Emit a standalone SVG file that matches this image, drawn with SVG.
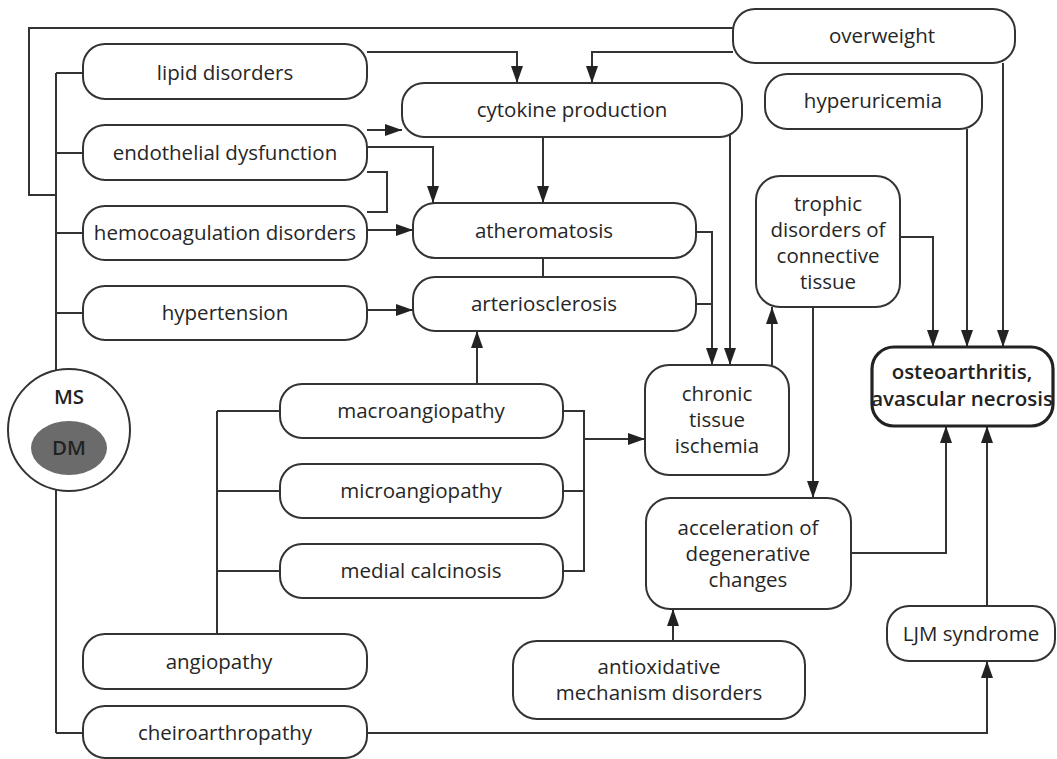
<svg xmlns="http://www.w3.org/2000/svg" width="1057" height="759" viewBox="0 0 1057 759">
  <style>
    .box { fill: #ffffff; stroke: #333333; stroke-width: 2; }
    .box-main { fill: #ffffff; stroke: #222222; stroke-width: 3.2; }
    .lbl { font-family: "Open Sans", "Liberation Sans", sans-serif; font-size: 20.5px; fill: #262626; text-anchor: middle; }
    .lbl-b { font-family: "Open Sans", "Liberation Sans", sans-serif; font-size: 20.5px; font-weight: 600; fill: #222222; text-anchor: middle; }
    .wire { fill: none; stroke: #333333; stroke-width: 2; }
    .arr { fill: none; stroke: #333333; stroke-width: 2; marker-end: url(#head); }
  </style>
  <defs>
    <marker id="head" viewBox="0 0 17 12" refX="17" refY="6" markerWidth="17" markerHeight="12" orient="auto" markerUnits="userSpaceOnUse">
      <path d="M0,0 L17,6 L0,12 z" fill="#222222"/>
    </marker>
  </defs>
  <rect width="1057" height="759" fill="#ffffff"/>

  <!-- connectors -->
  <g id="connectors">
    <path class="wire" d="M56,195 H29 V28 H733"/>
    <path class="wire" d="M56,73 V371 M56,489 V733"/>
    <path class="wire" d="M56,73 H83 M56,153 H83 M56,233 H83 M56,313 H83 M56,733 H83"/>
    <path class="arr" d="M367,52 H517 V83"/>
    <path class="arr" d="M733,52 H592 V83"/>
    <path class="arr" d="M367,130 H402"/>
    <path class="arr" d="M367,147 H433 V203"/>
    <path class="wire" d="M367,172 H387 V212 H367"/>
    <path class="arr" d="M367,230 H413"/>
    <path class="arr" d="M543,137 V203"/>
    <path class="wire" d="M543,258 V277"/>
    <path class="arr" d="M367,310 H413"/>
    <path class="arr" d="M696,232 H712 V365"/>
    <path class="wire" d="M696,304 H712"/>
    <path class="arr" d="M730,134 V365"/>
    <path class="arr" d="M477,384 V331"/>
    <path class="wire" d="M217,411 V634 M217,411 H280 M217,491 H280 M217,571 H280"/>
    <path class="wire" d="M563,411 H584 V571 H563 M563,491 H584"/>
    <path class="arr" d="M584,439 H645"/>
    <path class="arr" d="M772,365 V307"/>
    <path class="arr" d="M900,237 H933 V347"/>
    <path class="arr" d="M967,129 V347"/>
    <path class="arr" d="M1003,63 V347"/>
    <path class="arr" d="M813,307 V498"/>
    <path class="arr" d="M673,641 V609"/>
    <path class="arr" d="M851,553 H946 V426"/>
    <path class="arr" d="M987,606 V426"/>
    <path class="arr" d="M367,733 H987 V661"/>
  </g>

  <g id="ms-dm">
    <circle cx="69" cy="430" r="61" class="box"/>
    <ellipse cx="69" cy="448" rx="38" ry="27" fill="#6b6b6b"/>
    <text x="69" y="404" class="lbl-b">MS</text>
    <text x="69" y="455" class="lbl-b">DM</text>
  </g>

  <g id="lipid-disorders">
    <rect x="83" y="44" width="284" height="55" rx="22" class="box"/>
    <text x="225" y="80" class="lbl">lipid disorders</text>
  </g>
  <g id="endothelial-dysfunction">
    <rect x="83" y="125" width="284" height="55" rx="22" class="box"/>
    <text x="225" y="160" class="lbl">endothelial dysfunction</text>
  </g>
  <g id="hemocoagulation-disorders">
    <rect x="83" y="206" width="284" height="54" rx="22" class="box"/>
    <text x="225" y="240" class="lbl">hemocoagulation disorders</text>
  </g>
  <g id="hypertension">
    <rect x="83" y="286" width="284" height="54" rx="22" class="box"/>
    <text x="225" y="320" class="lbl">hypertension</text>
  </g>
  <g id="angiopathy">
    <rect x="83" y="634" width="284" height="55" rx="22" class="box"/>
    <text x="219" y="669" class="lbl">angiopathy</text>
  </g>
  <g id="cheiroarthropathy">
    <rect x="83" y="706" width="284" height="52" rx="22" class="box"/>
    <text x="225" y="740" class="lbl">cheiroarthropathy</text>
  </g>

  <g id="cytokine-production">
    <rect x="402" y="83" width="340" height="54" rx="22" class="box"/>
    <text x="572" y="117" class="lbl">cytokine production</text>
  </g>
  <g id="atheromatosis">
    <rect x="413" y="203" width="283" height="55" rx="22" class="box"/>
    <text x="544" y="238" class="lbl">atheromatosis</text>
  </g>
  <g id="arteriosclerosis">
    <rect x="413" y="277" width="283" height="54" rx="22" class="box"/>
    <text x="544" y="311" class="lbl">arteriosclerosis</text>
  </g>

  <g id="macroangiopathy">
    <rect x="280" y="384" width="283" height="54" rx="22" class="box"/>
    <text x="421" y="418" class="lbl">macroangiopathy</text>
  </g>
  <g id="microangiopathy">
    <rect x="280" y="464" width="283" height="54" rx="22" class="box"/>
    <text x="421" y="498" class="lbl">microangiopathy</text>
  </g>
  <g id="medial-calcinosis">
    <rect x="280" y="544" width="283" height="54" rx="22" class="box"/>
    <text x="421" y="578" class="lbl">medial calcinosis</text>
  </g>

  <g id="chronic-tissue-ischemia">
    <rect x="645" y="365" width="144" height="110" rx="24" class="box"/>
    <text x="717" y="401" class="lbl">chronic</text>
    <text x="717" y="427" class="lbl">tissue</text>
    <text x="717" y="453" class="lbl">ischemia</text>
  </g>

  <g id="trophic-disorders">
    <rect x="756" y="176" width="144" height="131" rx="24" class="box"/>
    <text x="828" y="211" class="lbl">trophic</text>
    <text x="828" y="237" class="lbl">disorders of</text>
    <text x="828" y="263" class="lbl">connective</text>
    <text x="828" y="289" class="lbl">tissue</text>
  </g>

  <g id="acceleration-of-degenerative-changes">
    <rect x="646" y="498" width="205" height="111" rx="24" class="box"/>
    <text x="748" y="535" class="lbl">acceleration of</text>
    <text x="748" y="561" class="lbl">degenerative</text>
    <text x="748" y="587" class="lbl">changes</text>
  </g>

  <g id="antioxidative-mechanism-disorders">
    <rect x="513" y="641" width="292" height="78" rx="24" class="box"/>
    <text x="659" y="674" class="lbl">antioxidative</text>
    <text x="659" y="700" class="lbl">mechanism disorders</text>
  </g>

  <g id="overweight">
    <rect x="733" y="9" width="282" height="54" rx="22" class="box"/>
    <text x="882" y="43" class="lbl">overweight</text>
  </g>
  <g id="hyperuricemia">
    <rect x="765" y="74" width="217" height="55" rx="22" class="box"/>
    <text x="873" y="108" class="lbl">hyperuricemia</text>
  </g>

  <g id="osteoarthritis-avascular-necrosis">
    <rect x="872" y="347" width="181" height="79" rx="22" class="box-main"/>
    <text x="962" y="379" class="lbl-b" font-size="18.5px">osteoarthritis,</text>
    <text x="962" y="406" class="lbl-b" font-size="18.5px">avascular necrosis</text>
  </g>

  <g id="ljm-syndrome">
    <rect x="887" y="606" width="168" height="55" rx="22" class="box"/>
    <text x="971" y="641" class="lbl">LJM syndrome</text>
  </g>
</svg>
